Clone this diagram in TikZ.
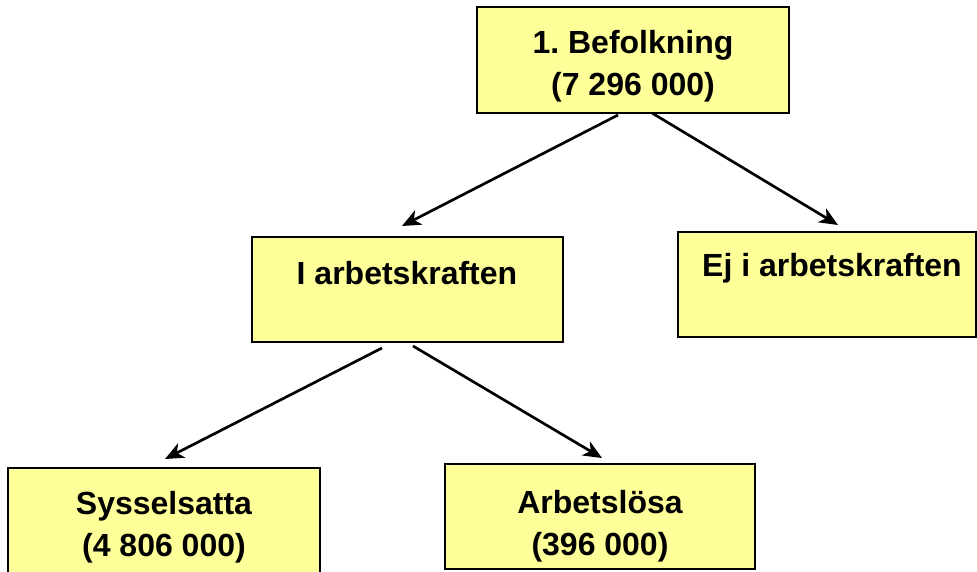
\documentclass[tikz,border=0pt]{standalone}
\usepackage{fontspec}
\setmainfont{Liberation Sans}
\usetikzlibrary{arrows.meta,calc}
\frenchspacing

\tikzset{every picture/.style={line width=0.75pt}}
\tikzset{
	box/.style={draw=black, line width=1.5pt, fill={rgb, 255:red, 255; green, 255; blue, 153 }, inner sep=0pt},
	lbl/.style={align=center, font=\fontsize{24}{31.5}\selectfont\bfseries},
	arr/.style={line width=2pt, -{Stealth[length=14pt, width=12pt, inset=4pt]}}
}

\begin{document}
\begin{tikzpicture}[x=0.75pt,y=0.75pt,yscale=-1,xscale=1]
		\useasboundingbox (0,0) rectangle (977,571);

		% boxes
		\node [box, minimum width=234pt, minimum height=79.5pt] (befolk) at (633,60) {};
		\node [box, minimum width=233pt, minimum height=78.75pt] (iark) at (407.5,289.5) {};
		\node [box, minimum width=223.5pt, minimum height=78.75pt] (ejark) at (827,284.5) {};
		\node [box, minimum width=234pt, minimum height=78.75pt] (syss) at (164,520.5) {};
		\node [box, minimum width=232.5pt, minimum height=78.75pt] (arbl) at (600,516.5) {};

		% texts
		\node [lbl] (befolktxt) at (633,66) {1. Befolkning\\(7 296 000)};
		\node [lbl] (iarktxt) at (407,273) {I arbetskraften};
		\node [lbl] (ejarktxt) at (832,268) {Ej i arbetskraften};
		\node [lbl] (sysstxt) at (164,527) {Sysselsatta\\(4 806 000)};
		\node [lbl] (arbltxt) at (600,526) {Arbetslösa\\(396 000)};

		% arrows
		\draw [arr] ($(befolk.south)+(-15,1)$) -- ($(iark.north)+(-5.5,-10)$);
		\draw [arr] ($(befolk.south)+(19,-1)$) -- ($(ejark.north)+(11,-6)$);
		\draw [arr] ($(iark.south)+(-25.5,5)$) -- ($(syss.north)+(1,-8)$);
		\draw [arr] ($(iark.south)+(5.5,3)$) -- ($(arbl.north)+(2,-5)$);

\end{tikzpicture}
\end{document}
